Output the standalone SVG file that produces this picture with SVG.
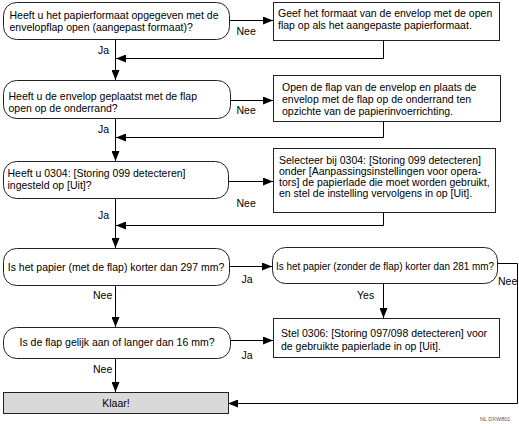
<svg xmlns="http://www.w3.org/2000/svg" width="519" height="424" viewBox="0 0 519 424">
<style>
.n{fill:#fff;stroke:#222;stroke-width:1}
.k{fill:#d9d9d9;stroke:#222;stroke-width:1}
.t{font-family:"Liberation Sans",Arial,sans-serif;font-size:10.5px;fill:#000}
.c{text-anchor:middle}
.l{fill:none;stroke:#000;stroke-width:1}
.f{font-family:"Liberation Sans",Arial,sans-serif;font-size:5.5px;fill:#555}
</style>
<defs>
<marker id="a" viewBox="0 0 10 8" refX="10" refY="4" markerWidth="10" markerHeight="8" markerUnits="userSpaceOnUse" orient="auto">
<path d="M0,0 L10,4 L0,8 Z" fill="#000"/>
</marker>
</defs>
<g id="connectors">
<path class="l" d="M115.5,39 V80" marker-end="url(#a)"/>
<path class="l" d="M115.5,118 V161" marker-end="url(#a)"/>
<path class="l" d="M115.5,198 V248" marker-end="url(#a)"/>
<path class="l" d="M115.5,285 V327" marker-end="url(#a)"/>
<path class="l" d="M115.5,358 V392" marker-end="url(#a)"/>
<path class="l" d="M229,20.5 H273" marker-end="url(#a)"/>
<path class="l" d="M230,100.5 H273" marker-end="url(#a)"/>
<path class="l" d="M228,181.5 H273" marker-end="url(#a)"/>
<path class="l" d="M229,266.5 H272" marker-end="url(#a)"/>
<path class="l" d="M230,340.5 H273" marker-end="url(#a)"/>
<path class="l" d="M383.5,40 V58.5 H116" marker-end="url(#a)"/>
<path class="l" d="M383.5,121 V137.5 H116" marker-end="url(#a)"/>
<path class="l" d="M383.5,212 V225.5 H116" marker-end="url(#a)"/>
<path class="l" d="M383.5,283 V318" marker-end="url(#a)"/>
<path class="l" d="M497,263.5 H517.5 V403.5 H228" marker-end="url(#a)"/>
<text class="t" x="236.5" y="35">Nee</text>
<text class="t" x="236.5" y="114">Nee</text>
<text class="t" x="236.5" y="207">Nee</text>
<text class="t" x="98" y="54">Ja</text>
<text class="t" x="98" y="132.5">Ja</text>
<text class="t" x="98" y="219">Ja</text>
<text class="t" x="93" y="299">Nee</text>
<text class="t" x="93" y="373">Nee</text>
<text class="t" x="241.5" y="282.5">Ja</text>
<text class="t" x="241.5" y="359">Ja</text>
<text class="t" x="357" y="299">Yes</text>
<text class="t" x="498" y="285">Nee</text>
</g>
<g id="q1">
<rect class="n" x="3.5" y="2.5" width="226" height="37" rx="13"/>
<text class="t" x="9.5" y="19">Heeft u het papierformaat opgegeven met de</text>
<text class="t" x="9.5" y="31">envelopflap open (aangepast formaat)?</text>
</g>
<g id="a1">
<rect class="n" x="273.5" y="2.5" width="226" height="38"/>
<text class="t" x="278" y="16.5">Geef het formaat van de envelop met de open</text>
<text class="t" x="278" y="29">flap op als het aangepaste papierformaat.</text>
</g>
<g id="q2">
<rect class="n" x="3.5" y="80.5" width="227" height="38" rx="13"/>
<text class="t" x="8.5" y="99.5">Heeft u de envelop geplaatst met de flap</text>
<text class="t" x="8.5" y="111.5">open op de onderrand?</text>
</g>
<g id="a2">
<rect class="n" x="273.5" y="75.5" width="227" height="46"/>
<text class="t" x="282" y="91">Open de flap van de envelop en plaats de</text>
<text class="t" x="282" y="103">envelop met de flap op de onderrand ten</text>
<text class="t" x="282" y="115">opzichte van de papierinvoerrichting.</text>
</g>
<g id="q3">
<rect class="n" x="3.5" y="161.5" width="225" height="37" rx="13"/>
<text class="t" x="7.5" y="177">Heeft u 0304: [Storing 099 detecteren]</text>
<text class="t" x="7.5" y="188.5">ingesteld op [Uit]?</text>
</g>
<g id="a3">
<rect class="n" x="273.5" y="148.5" width="222" height="64"/>
<text class="t" x="279" y="164">Selecteer bij 0304: [Storing 099 detecteren]</text>
<text class="t" x="279" y="175">onder [Aanpassingsinstellingen voor opera-</text>
<text class="t" x="279" y="186">tors] de papierlade die moet worden gebruikt,</text>
<text class="t" x="279" y="197">en stel de instelling vervolgens in op [Uit].</text>
</g>
<g id="q4">
<rect class="n" x="3.5" y="248.5" width="226" height="37" rx="13"/>
<text class="t c" x="116" y="271">Is het papier (met de flap) korter dan 297 mm?</text>
</g>
<g id="q5">
<rect class="n" x="272.5" y="247.5" width="225" height="36" rx="13"/>
<text class="t" x="276" y="269.5" textLength="218" lengthAdjust="spacingAndGlyphs">Is het papier (zonder de flap) korter dan 281 mm?</text>
</g>
<g id="a4">
<rect class="n" x="273.5" y="318.5" width="226" height="39"/>
<text class="t" x="281" y="336.5">Stel 0306: [Storing 097/098 detecteren] voor</text>
<text class="t" x="281" y="350">de gebruikte papierlade in op [Uit].</text>
</g>
<g id="q6">
<rect class="n" x="3.5" y="327.5" width="227" height="31" rx="13"/>
<text class="t c" x="117" y="346">Is de flap gelijk aan of langer dan 16 mm?</text>
</g>
<g id="done">
<rect class="k" x="3.5" y="392.5" width="225" height="21"/>
<text class="t c" x="116" y="406.5">Klaar!</text>
</g>
<text class="f" x="480" y="421">NL DXW801</text>
</svg>
